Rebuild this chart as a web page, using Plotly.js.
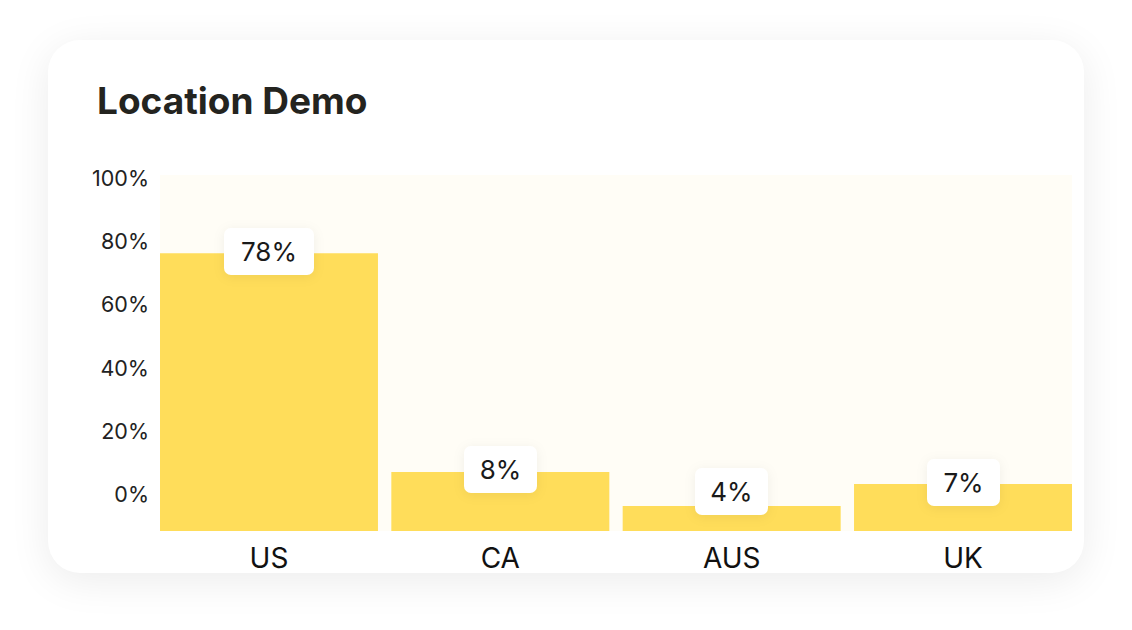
<!DOCTYPE html>
<html>
<head>
<meta charset="utf-8">
<script src="https://cdn.plot.ly/plotly-3.0.1.min.js"></script>
<style>
  html, body { margin: 0; padding: 0; background: #ffffff; width: 1132px; height: 630px; overflow: hidden; }
  #card {
    position: absolute; left: 48px; top: 40px; width: 1036px; height: 533px;
    background: #ffffff; border-radius: 32px;
    box-shadow: 0 8px 40px rgba(0,0,0,0.08);
  }
  #chart { position: absolute; left: 48px; top: 40px; width: 1036px; height: 570px; }
  .annotation rect.bg { rx: 7px; ry: 7px; filter: drop-shadow(0 2px 6px rgba(0,0,0,0.06)); }
</style>
</head>
<body>
<div id="card"></div>
<div id="chart"></div>
<script>
// Data
const categories = ["US", "CA", "AUS", "UK"];
const barHeights = [78, 16.6, 7.0, 13.2];          // drawn bar heights
const barLabels = ["78%", "8%", "4%", "7%"];        // printed labels
const tickValues = [10.4, 28.0, 45.6, 63.7, 81.4, 99.1];
const tickLabels = ["0%", "20%", "40%", "60%", "80%", "100%"];
const titleText = "Location Demo";

const FONT = "Inter, 'DejaVu Sans', sans-serif";

const trace = {
  type: "bar",
  x: categories,
  y: barHeights,
  marker: { color: "#ffdd5a" },
  hoverinfo: "skip"
};

// label boxes sit on the bar top, but never below the 0% tick line
const annotations = categories.map((c, i) => ({
  x: c, y: Math.max(barHeights[i], tickValues[0]), xref: "x", yref: "y",
  text: barLabels[i], showarrow: false,
  xanchor: "center", yanchor: "middle", yshift: 2,
  font: { family: FONT, size: 26, color: "#1a1a1a" },
  bgcolor: "#ffffff", borderpad: 0, borderwidth: 0,
  width: barLabels[i].length > 2 ? 90 : 73, height: 47
}));

const layout = {
  width: 1036, height: 570,
  margin: { l: 112, r: 12, t: 135, b: 79, pad: 0 },
  paper_bgcolor: "rgba(0,0,0,0)",
  plot_bgcolor: "#fffdf6",
  title: {
    text: "<b>" + titleText + "</b>",
    x: 49 / 1036, xref: "container", xanchor: "left",
    y: 1 - 61 / 570, yref: "container", yanchor: "middle",
    font: { family: FONT, size: 37, color: "#24241f" }
  },
  bargap: 0.0577,
  showlegend: false,
  xaxis: {
    type: "category",
    range: [-0.471, 3.471],
    showgrid: false, zeroline: false, showline: false, ticks: "",
    tickfont: { family: FONT, size: 28, color: "#111111" },
    ticklabelstandoff: 8
  },
  yaxis: {
    range: [0, 100], fixedrange: true,
    showgrid: false, zeroline: false, showline: false, ticks: "",
    tickmode: "array", tickvals: tickValues, ticktext: tickLabels,
    tickfont: { family: FONT, size: 21.5, color: "#222222" },
    ticklabelstandoff: 10
  },
  annotations: annotations
};

Plotly.newPlot("chart", [trace], layout, { displayModeBar: false, staticPlot: true });
</script>
</body>
</html>
